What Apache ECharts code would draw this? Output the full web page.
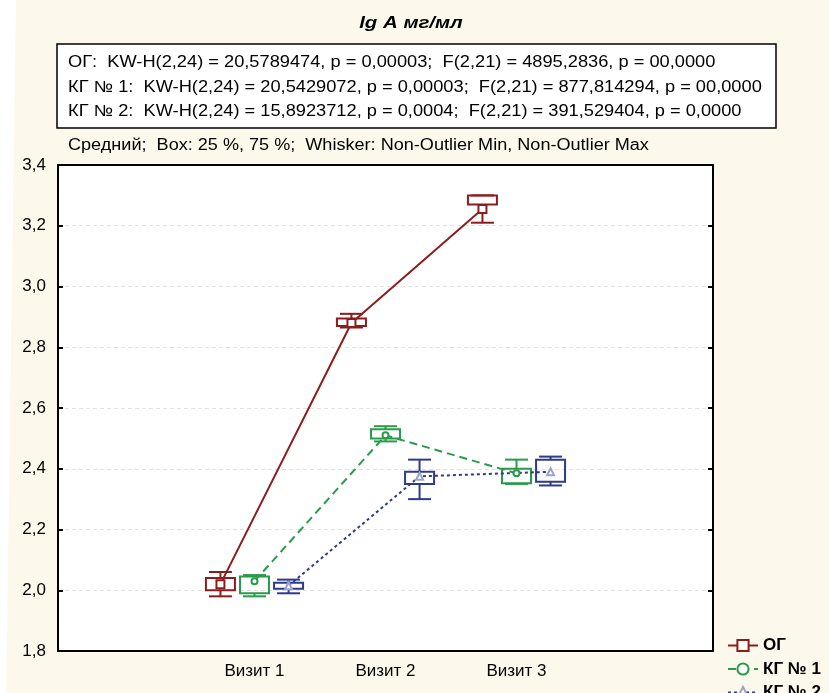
<!DOCTYPE html>
<html><head><meta charset="utf-8">
<script src="https://cdn.jsdelivr.net/npm/echarts@6/dist/echarts.min.js"></script>
<style>html,body{margin:0;padding:0;background:#fdf8ec;}#c{width:829px;height:693px;}</style>
</head><body><div id="c"></div>
<script>
const titleText = 'lg A мг/мл';
const statsLines = [
  'ОГ:  KW-H(2,24) = 20,5789474, p = 0,00003;  F(2,21) = 4895,2836, p = 00,0000',
  'КГ № 1:  KW-H(2,24) = 20,5429072, p = 0,00003;  F(2,21) = 877,814294, p = 00,0000',
  'КГ № 2:  KW-H(2,24) = 15,8923712, p = 0,0004;  F(2,21) = 391,529404, p = 0,0000'
];
const noteText = 'Средний;  Box: 25 %, 75 %;  Whisker: Non-Outlier Min, Non-Outlier Max';
const categories = ['', 'Визит 1', 'Визит 2', 'Визит 3', ''];
const visitIndex = [1, 2, 3];
const groupNames = ['ОГ', 'КГ № 1', 'КГ № 2'];
// ОГ
const ogMean = [2.02, 2.88, 3.255];
const ogMin  = [1.98, 2.865, 3.21];
const ogQ1   = [2.00, 2.87, 3.27];
const ogQ3   = [2.04, 2.895, 3.30];
const ogMax  = [2.06, 2.91, 3.30];
// КГ № 1
const kg1Mean = [2.03, 2.51, 2.385];
const kg1Min  = [1.98, 2.49, 2.35];
const kg1Q1   = [1.99, 2.50, 2.352];
const kg1Q3   = [2.045, 2.53, 2.40];
const kg1Max  = [2.05, 2.54, 2.43];
// КГ № 2
const kg2Mean = [2.015, 2.375, 2.39];
const kg2Min  = [1.99, 2.30, 2.345];
const kg2Q1   = [2.005, 2.35, 2.357];
const kg2Q3   = [2.025, 2.39, 2.43];
const kg2Max  = [2.035, 2.43, 2.44];
const yMin = 1.8, yMax = 3.4, yStep = 0.2;

const offsets = [-0.26, 0, 0.26];
const colors = ['#8c1d1d', '#2a9a4b', '#2e3a8a'];
const dashes = ['solid', [8, 5], [3, 3]];
const symbols = ['rect', 'circle', 'triangle'];
const symbolSizes = [8, 6, 7];
const markerBorders = ['#8c1d1d', '#2a9a4b', '#9aa3cc'];

const groups = [
  {mean: ogMean, min: ogMin, q1: ogQ1, q3: ogQ3, max: ogMax},
  {mean: kg1Mean, min: kg1Min, q1: kg1Q1, q3: kg1Q3, max: kg1Max},
  {mean: kg2Mean, min: kg2Min, q1: kg2Q1, q3: kg2Q3, max: kg2Max}
];

const chart = echarts.init(document.getElementById('c'), null, {renderer: 'canvas'});
const FONT = 'Arial, "Liberation Sans", sans-serif';
const series = [];
groups.forEach((g, i) => {
  const color = colors[i];
  series.push({
    type: 'custom',
    name: 'box' + i,
    xAxisIndex: 2, yAxisIndex: 0,
    z: 3,
    encode: {x: 0, y: [1, 2, 3, 4]},
    data: visitIndex.map((v, k) => [v + offsets[i], g.min[k], g.q1[k], g.q3[k], g.max[k]]),
    renderItem: function (params, api) {
      const x = api.value(0);
      const pMin = api.coord([x, api.value(1)]);
      const pQ1 = api.coord([x, api.value(2)]);
      const pQ3 = api.coord([x, api.value(3)]);
      const pMax = api.coord([x, api.value(4)]);
      const cx = pMin[0], bw = 29, cw = 23;
      const st = {stroke: color, lineWidth: 2, fill: null};
      return {type: 'group', children: [
        {type: 'rect', shape: {x: cx - bw / 2, y: pQ3[1], width: bw, height: Math.max(1, pQ1[1] - pQ3[1])}, style: st},
        {type: 'line', shape: {x1: cx, y1: pMax[1], x2: cx, y2: pQ3[1]}, style: st},
        {type: 'line', shape: {x1: cx, y1: pQ1[1], x2: cx, y2: pMin[1]}, style: st},
        {type: 'line', shape: {x1: cx - cw / 2, y1: pMax[1], x2: cx + cw / 2, y2: pMax[1]}, style: st},
        {type: 'line', shape: {x1: cx - cw / 2, y1: pMin[1], x2: cx + cw / 2, y2: pMin[1]}, style: st}
      ]};
    }
  });
  series.push({
    type: 'line',
    name: groupNames[i],
    xAxisIndex: 2, yAxisIndex: 0,
    z: 4,
    data: visitIndex.map((v, k) => [v + offsets[i], g.mean[k]]),
    symbol: symbols[i],
    symbolSize: symbolSizes[i],
    showAllSymbol: true,
    lineStyle: {color: color, width: 2, type: dashes[i]},
    itemStyle: {color: '#ffffff', borderColor: markerBorders[i], borderWidth: 2},
    emphasis: {disabled: true}
  });
});

const axisLineStyle = {color: '#000', width: 2};
const legendTops = [632, 655.5, 679];
const option = {
  backgroundColor: '#fdf8ec',
  animation: false,
  grid: {left: 58, right: 116, top: 165, bottom: 42, show: true, backgroundColor: '#ffffff', borderWidth: 0},
  graphic: [
    {type: 'polygon', shape: {points: [[0, 0], [16, 0], [6, 693], [0, 693]]}, style: {fill: '#ffffff'}, z: -10},
    {type: 'text', x: 411, y: 15, scaleX: 1.2, style: {text: titleText, font: 'italic bold 17px ' + FONT, fill: '#000', align: 'center'}},
    {type: 'rect', shape: {x: 57, y: 44, width: 719, height: 84}, style: {fill: '#ffffff', stroke: '#000', lineWidth: 1.5}},
    ...statsLines.map((t, k) => ({type: 'text', x: 68, y: 55 + k * 24.5, scaleX: 1.14, style: {text: t, font: '16px ' + FONT, fill: '#000'}})),
    {type: 'text', x: 68, y: 138, scaleX: 1.13, style: {text: noteText, font: '16px ' + FONT, fill: '#000'}}
  ],
  legend: groupNames.map((n, i) => ({
    data: [n],
    orient: 'vertical',
    left: 722, top: legendTops[i],
    itemWidth: 30, itemHeight: 14,
    textStyle: {fontFamily: FONT, fontWeight: 'bold', fontSize: 17, color: '#000'},
    selectedMode: false
  })),
  xAxis: [
    {type: 'category', data: categories, position: 'bottom', boundaryGap: true,
     axisLine: {onZero: false, lineStyle: axisLineStyle}, axisTick: {alignWithLabel: true, inside: true, length: 5, lineStyle: axisLineStyle},
     axisLabel: {fontFamily: FONT, fontSize: 17, color: '#000', margin: 12}, splitLine: {show: false}},
    {type: 'category', data: categories, position: 'top', boundaryGap: true,
     axisLine: {onZero: false, lineStyle: axisLineStyle}, axisTick: {alignWithLabel: true, inside: true, length: 5, lineStyle: axisLineStyle},
     axisLabel: {show: false}, splitLine: {show: false}},
    {type: 'value', min: -0.5, max: 4.5, show: false, axisLine: {onZero: false}, splitLine: {show: false}}
  ],
  yAxis: [
    {type: 'value', min: yMin, max: yMax, interval: yStep, position: 'left',
     axisLine: {show: true, onZero: false, lineStyle: axisLineStyle}, axisTick: {show: true, inside: true, length: 5, lineStyle: axisLineStyle},
     axisLabel: {fontFamily: FONT, fontSize: 17, color: '#000', margin: 12, formatter: v => v.toFixed(1).replace('.', ',')},
     splitLine: {show: true, lineStyle: {color: '#e2e2e2', type: [4, 3], width: 1}}},
    {type: 'value', min: yMin, max: yMax, interval: yStep, position: 'right',
     axisLine: {show: true, onZero: false, lineStyle: axisLineStyle}, axisTick: {show: true, inside: true, length: 5, lineStyle: axisLineStyle},
     axisLabel: {show: false}, splitLine: {show: false}}
  ],
  series: series
};
chart.setOption(option);
</script></body></html>
